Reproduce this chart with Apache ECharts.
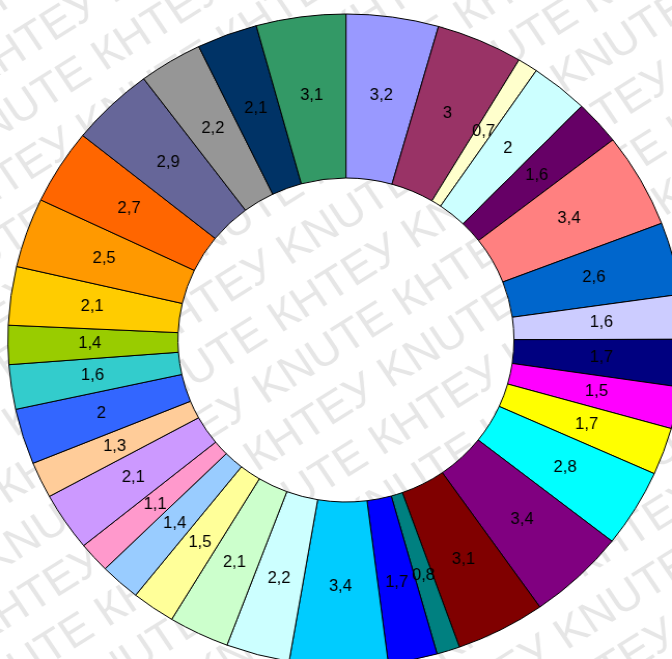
<!DOCTYPE html>
<html>
<head>
<meta charset="utf-8">
<script src="https://cdn.jsdelivr.net/npm/echarts@6/dist/echarts.min.js"></script>
<style>
  html, body { margin: 0; padding: 0; background: #fff; overflow: hidden; }
  #wrap { width: 672px; height: 659px; overflow: hidden; position: relative; }
  /* the ring is slightly wider than tall, so the drawing is stretched horizontally */
  #chart { width: 648px; height: 659px; transform: scaleX(1.037); transform-origin: 0 0; }
</style>
</head>
<body>
<div id="wrap"><div id="chart"></div></div>
<script>
// slice values, clockwise from 12 o'clock
const values = [3.2, 3, 0.7, 2, 1.6, 3.4, 2.6, 1.6, 1.7, 1.5, 1.7, 2.8, 3.4, 3.1, 0.8, 1.7,
                3.4, 2.2, 2.1, 1.5, 1.4, 1.1, 2.1, 1.3, 2, 1.6, 1.4, 2.1, 2.5, 2.7, 2.9, 2.2, 2.1, 3.1];
// slice fills
const colors = ['#9999FF', '#993366', '#FFFFCC', '#CCFFFF', '#660066', '#FF8080', '#0066CC', '#CCCCFF',
                '#000080', '#FF00FF', '#FFFF00', '#00FFFF', '#800080', '#800000', '#008080', '#0000FF',
                '#00CCFF', '#CCFFFF', '#CCFFCC', '#FFFF99', '#99CCFF', '#FF99CC', '#CC99FF', '#FFCC99',
                '#3366FF', '#33CCCC', '#99CC00', '#FFCC00', '#FF9900', '#FF6600', '#666699', '#969696',
                '#003366', '#339966'];
// watermark words
const markWords = ['КНТЕУ', 'KNUTE'];

const chart = echarts.init(document.getElementById('chart'), null, { renderer: 'canvas' });

const data = values.map((v, i) => ({ value: v, name: 'p' + (i + 1), itemStyle: { color: colors[i] } }));

// diagonal tiled watermark
const cx = 333.6, cy = 340;
const unit = markWords.join(' ') + ' ';
const line = unit.repeat(8);
const markTexts = [];
for (let r = -9; r <= 9; r++) {
  markTexts.push({
    type: 'text',
    x: -1200 + ((r * 110) % 330),
    y: r * 52,
    style: {
      text: line,
      font: '44px "Liberation Sans", Arial, sans-serif',
      fill: 'rgba(128,128,128,0.2)',
      textVerticalAlign: 'middle'
    },
    silent: true
  });
}

chart.setOption({
  animation: false,
  backgroundColor: '#fff',
  series: [{
    type: 'pie',
    center: [cx, cy],
    radius: [162, 326],
    startAngle: 90,
    clockwise: true,
    avoidLabelOverlap: false,
    emphasis: { disabled: true },
    itemStyle: { borderColor: '#000', borderWidth: 1 },
    label: {
      show: true,
      position: 'inside',
      color: '#000',
      fontSize: 16,
      fontFamily: '"Liberation Sans", Arial, sans-serif',
      textBorderWidth: 0,
      formatter: p => String(p.value).replace('.', ',')
    },
    labelLine: { show: false },
    data: data
  }],
  graphic: [{
    type: 'group',
    x: cx,
    y: cy,
    rotation: 33 * Math.PI / 180,
    z: 100,
    silent: true,
    children: markTexts
  }]
});
</script>
</body>
</html>
